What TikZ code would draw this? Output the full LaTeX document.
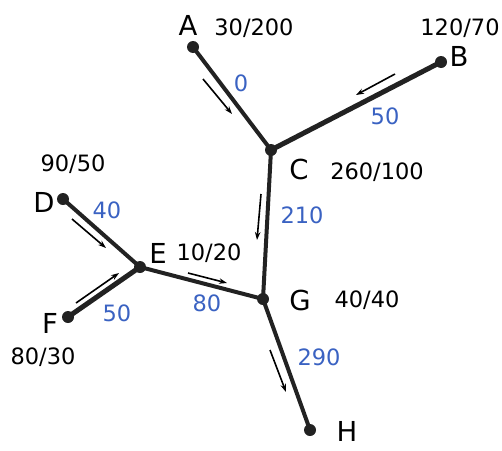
\documentclass[tikz,border=0pt]{standalone}
\usepackage{fontspec}
\setmainfont{DejaVu Sans}
\usetikzlibrary{arrows.meta}
\definecolor{lblblue}{HTML}{3A62C2}
\definecolor{edgecol}{HTML}{222222}
\tikzset{
  vert/.style={circle,fill=edgecol,inner sep=0pt,minimum size=12pt},
  edge/.style={draw=edgecol,line width=4pt},
  thickedge/.style={draw=edgecol,line width=5pt},
  letter/.style={font=\fontsize{27.5}{30}\selectfont,inner sep=0pt},
  val/.style={font=\fontsize{22.5}{25}\selectfont,inner sep=0pt},
  flow/.style={font=\fontsize{22.5}{25}\selectfont,inner sep=0pt,text=lblblue},
  flowarrow/.style={draw=black,line width=1.6pt,-{Stealth[length=8pt,width=5.5pt]}}
}
\begin{document}
\begin{tikzpicture}[x=1pt,y=-1pt]
\useasboundingbox (0,0) rectangle (502,450);
% vertices
\node[vert] (A) at (193,47) {};
\node[vert] (B) at (441,62) {};
\node[vert] (C) at (271,150) {};
\node[vert] (D) at (63,199) {};
\node[vert] (E) at (140,267) {};
\node[vert] (F) at (68,317) {};
\node[vert] (G) at (263,299) {};
\node[vert] (H) at (310,430) {};
% edges
\draw[edge] (A.center) -- (C.center);
\draw[thickedge] (B.center) -- (C.center);
\draw[edge] (C.center) -- (G.center);
\draw[edge] (D.center) -- (E.center);
\draw[thickedge] (F.center) -- (E.center);
\draw[edge] (E.center) -- (G.center);
\draw[edge] (G.center) -- (H.center);
% vertex letters
\node[letter] (lA) at (188,25) {A};
\node[letter] (lB) at (459,56) {B};
\node[letter] (lC) at (299,169) {C};
\node[letter] (lD) at (44,202) {D};
\node[letter] (lE) at (158,253) {E};
\node[letter] (lF) at (50,323) {F};
\node[letter] (lG) at (300,300) {G};
\node[letter] (lH) at (347,431) {H};
% vertex values
\node[val] (vA) at (254,28) {30/200};
\node[val] (vB) at (460,28) {120/70};
\node[val] (vC) at (377,172) {260/100};
\node[val] (vD) at (73,164) {90/50};
\node[val] (vE) at (209,253) {10/20};
\node[val] (vF) at (43,357) {80/30};
\node[val] (vG) at (367,300) {40/40};
% flow labels
\node[flow] (fAC) at (241,83) {0};
\node[flow] (fBC) at (385,116) {50};
\node[flow] (fCG) at (302,215) {210};
\node[flow] (fDE) at (107,210) {40};
\node[flow] (fFE) at (117,313) {50};
\node[flow] (fEG) at (207,303) {80};
\node[flow] (fGH) at (319,357) {290};
% flow arrows
\coordinate (a1s) at (203,79);  \coordinate (a1e) at (232,114);
\coordinate (a2s) at (395,74);  \coordinate (a2e) at (356,95);
\coordinate (a3s) at (261,194); \coordinate (a3e) at (257,240);
\coordinate (a4s) at (72,219);  \coordinate (a4e) at (106,248);
\coordinate (a5s) at (76,303);  \coordinate (a5e) at (119,273);
\coordinate (a6s) at (188,273); \coordinate (a6e) at (227,283);
\coordinate (a7s) at (270,350); \coordinate (a7e) at (286,392);
\draw[flowarrow] (a1s) -- (a1e);
\draw[flowarrow] (a2s) -- (a2e);
\draw[flowarrow] (a3s) -- (a3e);
\draw[flowarrow] (a4s) -- (a4e);
\draw[flowarrow] (a5s) -- (a5e);
\draw[flowarrow] (a6s) -- (a6e);
\draw[flowarrow] (a7s) -- (a7e);
\end{tikzpicture}
\end{document}
